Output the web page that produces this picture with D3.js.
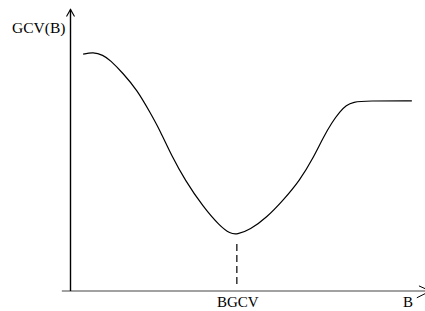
<!DOCTYPE html>
<html>
<head>
<meta charset="utf-8">
<script src="https://cdn.jsdelivr.net/npm/d3@7"></script>
<style>
	body { margin: 0; background: #fff; }
	svg { display: block; }
	text { font-family: "Liberation Serif", "DejaVu Serif", serif; fill: #000; }
</style>
</head>
<body>
<svg id="chart" width="425" height="311"></svg>
<script>
// curve (abstract units, 0..100 on both axes)
const bValues = [3.7, 6.5, 9.3, 11.3, 14.9, 18.9, 22.5, 25.4, 28.7, 32.4, 37.5, 42.3, 45.1, 47.0, 50.7, 55.5, 60.0, 64.8, 68.5, 71.3, 73.8, 76.1, 77.8, 79.7, 83.7, 96.3];
const gcvValues = [83.7, 84.4, 83.4, 81.6, 77.0, 71.0, 63.2, 56.6, 47.6, 39.2, 29.7, 22.8, 20.3, 19.9, 21.6, 26.1, 32.0, 39.2, 47.0, 54.2, 59.6, 63.5, 65.6, 66.8, 67.2, 67.2];
const bgcv = 47.0;
const yLabel = "GCV(B)";
const xLabel = "B";
const minLabel = "BGCV";

const svg = d3.select("#chart");

let x = d3.scaleLinear().domain([0, 100]).range([70, 425]);
let y = d3.scaleLinear().domain([0, 100]).range([291, 8]);

// axes drawn as plain arrows, no ticks
svg.append("line")
	.attr("x1", x(-2.3)).attr("x2", x(101.5))
	.attr("y1", y(0)).attr("y2", y(0))
	.attr("stroke", "#444").attr("stroke-width", 1.2);

svg.append("line")
	.attr("x1", x(0) + 0.5).attr("x2", x(0) + 0.5)
	.attr("y1", y(0)).attr("y2", y(99.5))
	.attr("stroke", "#000").attr("stroke-width", 1.4);

// arrow heads
svg.append("path")
	.attr("d", `M${x(0) - 3.5},${y(97)} L${x(0) + 0.5},${y(99.5)} L${x(0) + 4.5},${y(97)}`)
	.attr("fill", "none").attr("stroke", "#000").attr("stroke-width", 1.1);

svg.append("path")
	.attr("d", `M${x(98.3)},${y(1.8)} L${x(101.5)},${y(0)} L${x(97.7)},${y(-2.4)}`)
	.attr("fill", "none").attr("stroke", "#000").attr("stroke-width", 1);

// the curve
const pts = bValues.map((b, i) => [b, gcvValues[i]]);
const line = d3.line()
	.x(d => x(d[0]))
	.y(d => y(d[1]))
	.curve(d3.curveBasis);

svg.append("path")
	.datum(pts)
	.attr("d", line)
	.attr("fill", "none")
	.attr("stroke", "#000")
	.attr("stroke-width", 1.2);

// dashed drop line at the minimum
svg.append("line")
	.attr("x1", x(bgcv)).attr("x2", x(bgcv))
	.attr("y1", y(16.6)).attr("y2", y(2.5))
	.attr("stroke", "#000").attr("stroke-width", 1.2)
	.attr("stroke-dasharray", "7,4");

// labels
svg.append("text")
	.attr("x", 12).attr("y", 33)
	.style("font-size", "15.5px")
	.text(yLabel);

svg.append("text")
	.attr("x", x(bgcv) + 1).attr("y", 307)
	.attr("text-anchor", "middle")
	.style("font-size", "15px")
	.text(minLabel);

svg.append("text")
	.attr("x", 403).attr("y", 307)
	.style("font-size", "15px")
	.text(xLabel);
</script>
</body>
</html>
